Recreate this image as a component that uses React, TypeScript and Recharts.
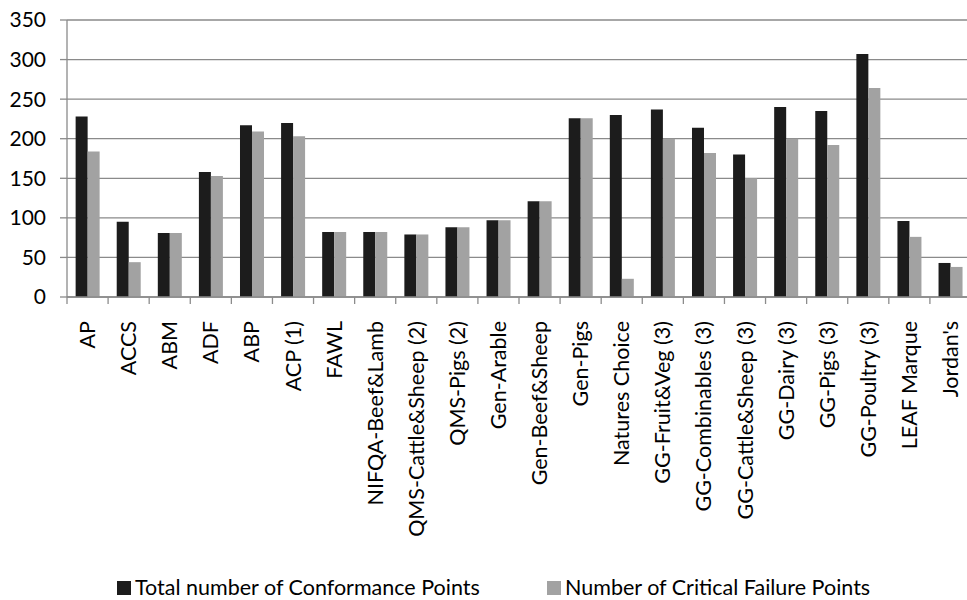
import React from "react";
import { BarChart, Bar, XAxis, YAxis, CartesianGrid } from "recharts";

const categories = [
  "AP", "ACCS", "ABM", "ADF", "ABP", "ACP (1)", "FAWL", "NIFQA-Beef&Lamb",
  "QMS-Cattle&Sheep (2)", "QMS-Pigs (2)", "Gen-Arable", "Gen-Beef&Sheep",
  "Gen-Pigs", "Natures Choice", "GG-Fruit&Veg (3)", "GG-Combinables (3)",
  "GG-Cattle&Sheep (3)", "GG-Dairy (3)", "GG-Pigs (3)", "GG-Poultry (3)",
  "LEAF Marque", "Jordan's",
];
const totalPoints = [228, 95, 81, 158, 217, 220, 82, 82, 79, 88, 97, 121, 226, 230, 237, 214, 180, 240, 235, 307, 96, 43];
const criticalPoints = [184, 44, 81, 153, 209, 203, 82, 82, 79, 88, 97, 121, 226, 23, 200, 182, 150, 200, 192, 264, 76, 38];
const seriesNames = ["Total number of Conformance Points", "Number of Critical Failure Points"];
const yTicks = [0, 50, 100, 150, 200, 250, 300, 350];

const colors = ["#1c1c1c", "#a2a2a2"];
const FONT = "Lato, 'Open Sans', sans-serif";

const data = categories.map((c, i) => ({ name: c, total: totalPoints[i], critical: criticalPoints[i] }));

const XTick = (props: any) => {
  const { x, y, payload } = props;
  const half = payload && typeof payload.offset === "number" && payload.offset > 0 ? payload.offset : 20.55;
  const bx = x - half;
  return (
    <g>
      <line x1={bx} y1={y} x2={bx} y2={y + 7} stroke="#8c8c8c" strokeWidth={1.3} />
      <text
        x={x}
        y={y + 24}
        transform={`rotate(-90, ${x}, ${y + 24})`}
        textAnchor="end"
        dy="0.35em"
        fontFamily={FONT}
        fontSize={21.5}
        fill="#000"
      >
        {payload.value}
      </text>
    </g>
  );
};

export default function App() {
  return (
    <div style={{ position: "absolute", left: 0, top: 0, width: 967, height: 600, overflow: "hidden", background: "#fff" }}>
      <BarChart
        width={975}
        height={600}
        data={data}
        margin={{ top: 20, right: 4, bottom: 63, left: 0 }}
        barCategoryGap="21%"
        barGap={0}
      >
        <CartesianGrid vertical={false} stroke="#8a8a8a" strokeWidth={1.3} />
        <XAxis
          dataKey="name"
          interval={0}
          height={240}
          tickSize={0}
          tickMargin={0}
          tickLine={false}
          axisLine={{ stroke: "#8a8a8a", strokeWidth: 1.3 }}
          tick={<XTick />}
        />
        <YAxis
          domain={[0, 350]}
          ticks={yTicks}
          width={67}
          tickSize={7}
          tickMargin={14}
          tickLine={{ stroke: "#8a8a8a", strokeWidth: 1.3 }}
          axisLine={{ stroke: "#8a8a8a", strokeWidth: 1.3 }}
          tick={{ fontFamily: FONT, fontSize: 21, fill: "#000" }}
          interval={0}
        />
        <Bar dataKey="total" name={seriesNames[0]} fill={colors[0]} isAnimationActive={false} />
        <Bar dataKey="critical" name={seriesNames[1]} fill={colors[1]} isAnimationActive={false} />
      </BarChart>
      <div
        style={{
          position: "absolute",
          top: 574,
          left: 0,
          width: 967,
          height: 26,
          fontFamily: FONT,
          fontSize: 21.5,
          color: "#000",
          lineHeight: "normal",
        }}
      >
        {seriesNames.map((n, i) => (
          <div
            key={n}
            style={{ position: "absolute", top: 0, left: i === 0 ? 117 : 547, display: "flex", alignItems: "center", whiteSpace: "nowrap" }}
          >
            <span style={{ display: "inline-block", width: 14, height: 14, background: colors[i], marginRight: 4, marginTop: 2 }} />
            <span>{n}</span>
          </div>
        ))}
      </div>
    </div>
  );
}
